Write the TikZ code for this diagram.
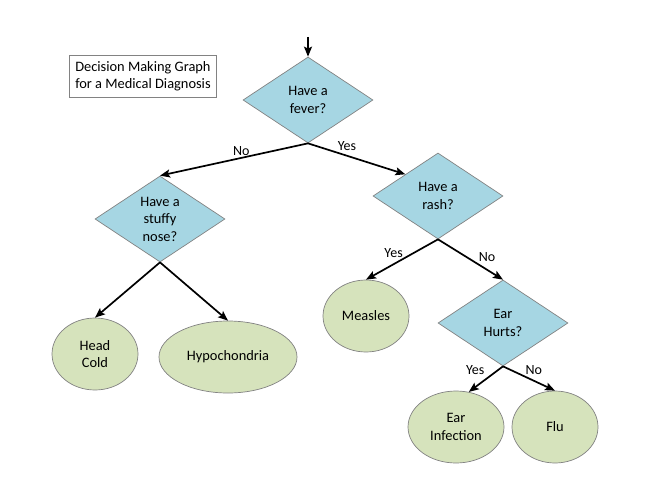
\documentclass[tikz,border=0pt]{standalone}
\usepackage{fontspec}
\setmainfont{Carlito}
\usetikzlibrary{positioning,arrows,arrows.meta,shapes.geometric}
\definecolor{qblue}{RGB}{166,214,227}
\definecolor{lgreen}{RGB}{214,227,188}
\definecolor{bordergray}{RGB}{130,130,130}

\begin{document}
\begin{tikzpicture}[x=1pt,y=-1pt,
  font=\fontsize{14.4}{17.5}\selectfont,
  question/.style={diamond,draw=bordergray,fill=qblue,line width=0.7pt,
    minimum width=130pt,minimum height=86pt,inner sep=0pt,aspect=1.5,align=center},
  result/.style={ellipse,draw=bordergray,fill=lgreen,line width=0.7pt,
    minimum height=72pt,inner sep=0pt,align=center},
  arr/.style={-{Stealth[length=10pt,width=8pt,inset=2pt]},line width=1.7pt},
  lab/.style={font=\fontsize{14}{16}\selectfont,inner sep=1pt}]
\useasboundingbox (0,0) rectangle (647,500);
% title
\node [draw=bordergray,line width=0.6pt,align=left,inner xsep=6pt,minimum height=42pt] (title) at (143,76)
  {Decision Making Graph\\for a Medical Diagnosis};
% questions
\node [question] (fever) at (308,100) {Have a\\fever?};
\node [question] (stuffy) at (160,219) {Have a\\stuffy\\nose?};
\node [question] (rash) at (438,196) {Have a\\rash?};
\node [question] (ear) at (503,323) {Ear\\Hurts?};
% results
\node [result,minimum width=86pt] (cold) at (95,354) {Head\\Cold};
\node [result,minimum width=138pt] (hypo) at (228,357) {Hypochondria};
\node [result,minimum width=86pt] (measles) at (366,316) {Measles};
\node [result,minimum width=96pt] (infection) at (456,427) {Ear\\Infection};
\node [result,minimum width=86pt] (flu) at (555,427) {Flu};
% edges
\coordinate (start) at (308,37);
\draw [arr] (start) -- (fever.north);
\draw [arr] (fever.south) -- node [lab,above,pos=0.45] {No} (stuffy.north);
\draw [arr] (fever.south) -- node [lab,above,pos=0.4,yshift=3pt] {Yes} (rash.north west);
\draw [arr] (stuffy.south) -- (cold.north);
\draw [arr] (stuffy.south) -- (hypo.north);
\draw [arr] (rash.south) -- node [lab,above left,pos=0.45,xshift=-1pt,yshift=-2pt] {Yes} (measles.north);
\draw [arr] (rash.south) -- node [lab,above right,pos=0.6] {No} (ear.north);
\draw [arr] (ear.south) -- node [lab,above left,pos=0.2,xshift=-10pt,yshift=-5pt] {Yes} (infection.70);
\draw [arr] (ear.south) -- node [lab,above right,pos=0.4] {No} (flu.north);
\end{tikzpicture}
\end{document}
